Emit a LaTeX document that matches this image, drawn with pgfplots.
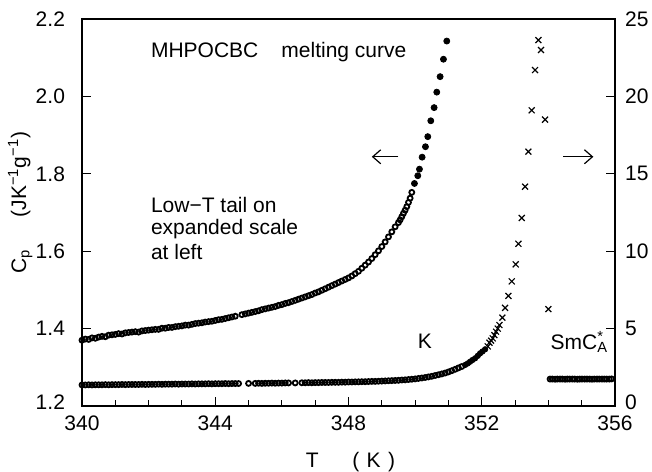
\documentclass[border=0pt]{standalone}
\usepackage{fontspec}
\setmainfont{Liberation Sans}
\usepackage{pgfplots}
\pgfplotsset{compat=1.18}
\usetikzlibrary{arrows.meta}

\pgfplotsset{
  cpbase/.style={
    scale only axis, width=266.5pt, height=193.5pt,
    at={(0,0)}, anchor=south west,
    xmin=340, xmax=356,
    tick align=inside,
    major tick length=4.5pt, minor tick length=2.8pt,
    tick style={black, line width=0.5pt},
    axis line style={line width=0.6pt},
    font=\fontsize{10.5}{12}\selectfont,
    /pgf/number format/assume math mode=true,
  },
  tailmark/.style={only marks, mark=o, mark size=1.25pt, mark options={line width=0.9pt, black}},
  bigdot/.style={only marks, mark=*, mark size=1.5pt, mark options={fill=black, draw=black}},
  crossmark/.style={only marks, mark=x, mark size=2.1pt, mark options={line width=0.6pt, black}},
}

\begin{document}
\begin{tikzpicture}
% left scale: upper curve (expanded low-T tail)
\begin{axis}[
    cpbase,
    ymin=1.2, ymax=2.2,
    xtick={340,344,348,352,356}, minor x tick num=3,
    ytick={1.2,1.4,1.6,1.8,2.0,2.2},
    yticklabels={\raisebox{4pt}{1.2},1.4,1.6,1.8,2.0,2.2},
    yticklabel style={xshift=-5pt},
    xticklabel style={yshift=-1.5pt},
    /pgf/number format/1000 sep={},
    xtick pos=left, ytick pos=left,
    xlabel={T\hspace{1.6em}(\hspace{0.35em}K\hspace{0.35em})},
    xlabel style={at={(axis description cs:0.5,0)}, anchor=center, yshift=-27.8pt, xshift=1pt},
    ylabel={C\textsubscript{p}\hspace{1.5em}(JK\textsuperscript{−1}g\textsuperscript{−1})},
    ylabel style={at={(axis description cs:-0.116,0.526)}, anchor=center},
]
\addplot[tailmark] coordinates {
(340.0,1.370) (340.1,1.373) (340.2,1.372) (340.3,1.376) (340.4,1.375) (340.5,1.378)
(340.6,1.380) (340.7,1.379) (340.8,1.383) (340.9,1.384) (341.0,1.385) (341.1,1.387)
(341.2,1.386) (341.3,1.389) (341.4,1.390) (341.5,1.391) (341.6,1.392) (341.7,1.391)
(341.8,1.394) (341.9,1.395) (342.0,1.396) (342.1,1.397) (342.2,1.398) (342.3,1.398)
(342.4,1.401) (342.5,1.401) (342.6,1.403) (342.7,1.403) (342.8,1.405) (342.9,1.406)
(343.0,1.407) (343.1,1.409) (343.2,1.409) (343.3,1.411) (343.4,1.413) (343.5,1.414)
(343.6,1.415) (343.7,1.417) (343.8,1.418) (343.9,1.419) (344.0,1.421) (344.1,1.423)
(344.2,1.424) (344.3,1.426) (344.4,1.428) (344.5,1.430) (344.6,1.432) (344.8,1.436)
(344.9,1.438) (345.0,1.440) (345.1,1.442) (345.2,1.444) (345.3,1.446) (345.4,1.449)
(345.5,1.451) (345.6,1.453) (345.7,1.455) (345.8,1.457) (345.9,1.460) (346.0,1.462)
(346.1,1.465) (346.2,1.467) (346.3,1.470) (346.4,1.473) (346.5,1.476) (346.6,1.479)
(346.7,1.482) (346.8,1.485) (346.9,1.488) (347.0,1.492) (347.1,1.495) (347.2,1.499)
(347.3,1.503) (347.4,1.507) (347.5,1.511) (347.6,1.515) (347.7,1.519) (347.8,1.523)
(347.9,1.527) (348.0,1.531) (348.1,1.536) (348.2,1.542) (348.3,1.548) (348.4,1.556)
(348.5,1.564) (348.6,1.572) (348.7,1.581) (348.8,1.591) (348.9,1.601) (349.0,1.612)
(349.1,1.624) (349.2,1.637) (349.3,1.650) (349.4,1.663) (349.5,1.674) (349.55,1.681)
(349.6,1.689) (349.65,1.698) (349.7,1.706) (349.75,1.715) (349.8,1.726) (349.85,1.737)
(349.9,1.752)
};
\addplot[bigdot] coordinates {
(349.98,1.775) (350.08,1.795) (350.13,1.812) (350.21,1.843) (350.31,1.870) (350.38,1.896)
(350.47,1.937) (350.57,1.971) (350.65,2.011) (350.75,2.051) (350.85,2.096) (350.95,2.143)
};
\node[anchor=west, inner sep=0pt] at (axis cs:342.06,2.115) {MHPOCBC\hspace{1.1em}melting curve};
\node[anchor=west, inner sep=0pt] at (axis cs:342.06,1.719) {Low−T tail on};
\node[anchor=west, inner sep=0pt] at (axis cs:342.06,1.657) {expanded scale};
\node[anchor=west, inner sep=0pt] at (axis cs:342.06,1.599) {at left};
\node at (axis cs:350.29,1.366) {K};
\node[inner sep=1pt] at (axis cs:354.93,1.366) {SmC\rlap{\textsuperscript{*}}\textsubscript{A}};
\draw[-{Straight Barb[length=4pt,width=7pt]}, line width=0.6pt]
  (axis cs:349.50,1.844) -- (axis cs:348.70,1.844);
\draw[-{Straight Barb[length=4pt,width=7pt]}, line width=0.6pt]
  (axis cs:354.45,1.844) -- (axis cs:355.35,1.844);
\end{axis}

% right scale: full melting curve
\begin{axis}[
    cpbase,
    ymin=0, ymax=25,
    axis x line=none, axis y line*=right,
    ytick={0,5,10,15,20,25},
    yticklabels={\raisebox{4pt}{0},5,10,15,20,25},
    yticklabel style={xshift=1.5pt},
]
\addplot[tailmark] coordinates {
(340.0,1.36) (340.1,1.36) (340.2,1.37) (340.3,1.36) (340.4,1.37) (340.5,1.37)
(340.6,1.37) (340.7,1.38) (340.8,1.37) (340.9,1.38) (341.0,1.38) (341.1,1.38)
(341.2,1.39) (341.3,1.38) (341.4,1.39) (341.5,1.39) (341.6,1.39) (341.7,1.39)
(341.8,1.40) (341.9,1.39) (342.0,1.40) (342.1,1.40) (342.2,1.40) (342.3,1.41)
(342.4,1.40) (342.5,1.41) (342.6,1.41) (342.7,1.41) (342.8,1.42) (342.9,1.41)
(343.0,1.42) (343.1,1.42) (343.2,1.42) (343.3,1.43) (343.4,1.42) (343.5,1.43)
(343.6,1.43) (343.7,1.43) (343.8,1.44) (343.9,1.43) (344.0,1.44) (344.1,1.44)
(344.2,1.44) (344.3,1.45) (344.4,1.44) (344.5,1.45) (344.6,1.45) (344.7,1.45)
(345.0,1.46) (345.2,1.46) (345.3,1.47) (345.4,1.46) (345.5,1.47) (345.6,1.47)
(345.7,1.48) (345.8,1.47) (345.9,1.48) (346.0,1.48) (346.1,1.49) (346.2,1.49)
(346.4,1.49) (346.6,1.50) (346.7,1.50) (346.8,1.51) (346.9,1.50) (347.0,1.51)
(347.1,1.51) (347.2,1.52) (347.3,1.52) (347.4,1.52) (347.5,1.53) (347.6,1.53)
(347.7,1.53) (347.8,1.54) (347.9,1.54) (348.0,1.55) (348.1,1.55) (348.2,1.56)
(348.3,1.56) (348.4,1.57) (348.5,1.57) (348.6,1.58) (348.7,1.59) (348.8,1.59)
(348.9,1.60) (349.0,1.61) (349.1,1.62) (349.2,1.63) (349.3,1.64) (349.4,1.65)
(349.5,1.66) (349.6,1.68) (349.7,1.69) (349.8,1.71) (349.9,1.73) (350.0,1.75)
(350.1,1.78) (350.2,1.81) (350.3,1.84) (350.4,1.88) (350.5,1.92) (350.6,1.97)
(350.7,2.02) (350.8,2.07) (350.9,2.13) (351.0,2.20) (351.1,2.28) (351.2,2.37)
(351.3,2.46) (351.4,2.55)
};
\addplot[bigdot, mark size=1.35pt] coordinates {
(351.5,2.65) (351.58,2.75) (351.65,2.86) (351.72,2.97) (351.8,3.08) (351.88,3.24)
(351.95,3.40) (352.02,3.52) (352.1,3.66)
};
\addplot[crossmark] coordinates {
(352.18,3.85) (352.23,4.09) (352.28,4.22) (352.33,4.37) (352.38,4.58) (352.43,4.80)
(352.48,5.00) (352.53,5.23) (352.62,5.71) (352.70,6.34) (352.80,7.11) (352.90,8.05)
(353.02,9.15) (353.10,10.48) (353.20,12.15) (353.30,14.17) (353.40,16.43) (353.50,19.10)
(353.60,21.70) (353.70,23.64) (353.78,23.00) (353.90,18.50) (354.00,6.26)
};
\addplot[tailmark] coordinates {
(354.05,1.74) (354.12,1.74) (354.20,1.73) (354.27,1.74) (354.35,1.74) (354.42,1.74)
(354.50,1.73) (354.57,1.74) (354.64,1.74) (354.72,1.74) (354.79,1.74) (354.87,1.73)
(354.94,1.74) (355.01,1.74) (355.09,1.74) (355.16,1.74) (355.24,1.74) (355.31,1.73)
(355.38,1.74) (355.46,1.74) (355.53,1.74) (355.61,1.74) (355.68,1.74) (355.75,1.74)
(355.83,1.74) (355.90,1.75)
};
\end{axis}
\pgfresetboundingbox
\path (-41pt,-32.5pt) rectangle (285pt,203pt);
\end{tikzpicture}
\end{document}
